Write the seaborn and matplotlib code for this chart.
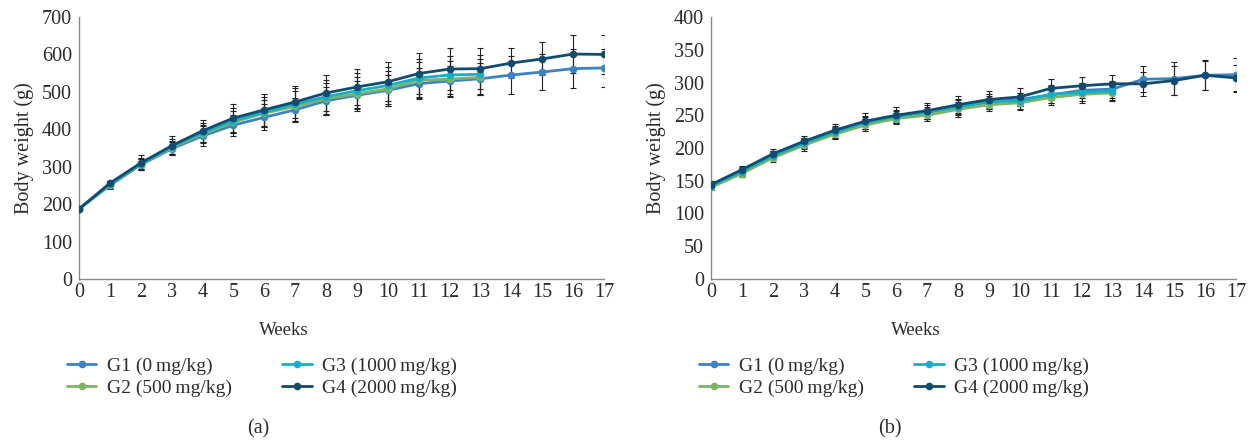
import numpy as np
import pandas as pd
import matplotlib
matplotlib.use("Agg")
import matplotlib.pyplot as plt
import seaborn as sns

sns.set_theme(style="white")
plt.rcParams['font.family'] = ['Liberation Serif', 'DejaVu Serif']

groups = ["G1 (0\u2009mg/kg)", "G2 (500\u2009mg/kg)", "G3 (1000\u2009mg/kg)", "G4 (2000\u2009mg/kg)"]
colors = ["#3d82c4", "#7db463", "#13afc6", "#124b6e"]

weeks_full = list(range(18))
weeks_short = list(range(14))

# Panel (a)
a_g1 = [187, 250, 305, 348, 382, 411, 432, 452, 476, 491, 504, 522, 529, 535, 545, 553, 562, 564]
a_g2 = [187, 252, 307, 351, 387, 419, 443, 461, 481, 495, 508, 531, 534, 539]
a_g3 = [187, 253, 308, 353, 391, 423, 446, 467, 487, 503, 517, 537, 545, 547]
a_g4 = [187, 256, 310, 356, 396, 430, 452, 473, 497, 513, 527, 549, 561, 562, 577, 588, 601, 600]
a_sd1 = [4, 10, 15, 17, 26, 28, 35, 32, 38, 38, 41, 41, 40, 43, 50, 48, 52, 51]
a_sd2 = [4, 9, 14, 18, 24, 30, 36, 40, 44, 45, 47, 48, 48, 48]
a_sd3 = [4, 9, 15, 20, 26, 33, 40, 44, 46, 47, 50, 52, 52, 52]
a_sd4 = [4, 7, 20, 26, 29, 37, 42, 43, 48, 48, 52, 54, 55, 54, 41, 44, 51, 51]

# Panel (b)
b_g1 = [143, 165, 189, 208, 224, 238, 248, 254, 263, 270, 274, 281, 288, 290, 305, 306, 311, 312]
b_g2 = [140, 161, 185, 204, 221, 235, 245, 250, 259, 266, 269, 277, 282, 284]
b_g3 = [142, 164, 188, 207, 224, 239, 248, 255, 263, 271, 272, 282, 285, 287]
b_g4 = [144, 167, 191, 210, 227, 241, 250, 257, 266, 274, 278, 291, 295, 298, 298, 303, 311, 307]
b_sd1 = [4, 6, 7, 8, 8, 9, 9, 9, 10, 10, 10, 12, 12, 13, 20, 25, 23, 26]
b_sd2 = [4, 5, 7, 8, 8, 9, 9, 9, 11, 10, 11, 12, 13, 13]
b_sd3 = [4, 6, 7, 9, 9, 10, 10, 10, 12, 11, 12, 14, 14, 14]
b_sd4 = [5, 6, 8, 9, 9, 12, 12, 12, 14, 13, 14, 14, 14, 14, 18, 22, 22, 20]

panels = [
    dict(means=[a_g1, a_g2, a_g3, a_g4], sds=[a_sd1, a_sd2, a_sd3, a_sd4],
         ylim=700, step=100, tag="(a)"),
    dict(means=[b_g1, b_g2, b_g3, b_g4], sds=[b_sd1, b_sd2, b_sd3, b_sd4],
         ylim=400, step=50, tag="(b)"),
]

W, H = 1254, 443
fig = plt.figure(figsize=(W / 100, H / 100), dpi=100)
text_color = "#2b2b2b"
lefts = [79, 711]
ax_w = 525
ax_bottom = 279
ax_top = 17
fs = 14.5

for pi, (p, lx) in enumerate(zip(panels, lefts)):
    ax = fig.add_axes([lx / W, 1 - ax_bottom / H, ax_w / W, (ax_bottom - ax_top) / H])
    rows = []
    for g, m, s in zip(groups, p["means"], p["sds"]):
        wk = weeks_full if len(m) == 18 else weeks_short
        for w, v, e in zip(wk, m, s):
            rows.append(dict(week=w, weight=v, sd=e, group=g))
    df = pd.DataFrame(rows)
    for g in groups:
        d = df[df.group == g]
        ax.errorbar(d.week, d.weight, yerr=d.sd, fmt="none", ecolor="#222222",
                    elinewidth=0.8, capsize=2.5, capthick=0.8, zorder=2)
    sns.lineplot(data=df, x="week", y="weight", hue="group", hue_order=groups,
                 palette=colors, marker="o", markersize=5.5, markeredgewidth=0,
                 linewidth=2, ax=ax, zorder=3, legend=True)
    ax.set_xlim(0, 17)
    ax.set_ylim(0, p["ylim"])
    ax.set_xticks(weeks_full)
    ax.set_yticks(np.arange(0, p["ylim"] + 1, p["step"]))
    ax.tick_params(axis="both", length=0, labelsize=fs, colors=text_color)
    ax.tick_params(axis="x", pad=3)
    ax.tick_params(axis="y", pad=5)
    for side in ["top", "right"]:
        ax.spines[side].set_visible(False)
    for side in ["left", "bottom"]:
        ax.spines[side].set_color("#8a8a8a")
        ax.spines[side].set_linewidth(1.0)
    ax.set_ylabel("Body weight (g)", fontsize=fs, color=text_color, labelpad=6)
    ax.set_xlabel("Weeks", fontsize=13.5, color=text_color)
    ax.xaxis.set_label_coords(0.39, -0.165)
    handles, labels = ax.get_legend_handles_labels()
    ax.get_legend().remove()
    legx = (lx - 12) / W
    fig.legend(handles, labels, loc="upper left", bbox_to_anchor=(legx, 1 - 357 / H),
               ncol=2, frameon=False, fontsize=14, handlelength=1.5,
               handletextpad=0.55, columnspacing=2.6, labelspacing=0.22,
               borderpad=0, borderaxespad=0, labelcolor=text_color)
    fig.text((lx + 179) / W, 1 - 429 / H, p["tag"], ha="center", va="center",
             fontsize=fs, color=text_color)

fig.savefig("out.png", dpi=100)
